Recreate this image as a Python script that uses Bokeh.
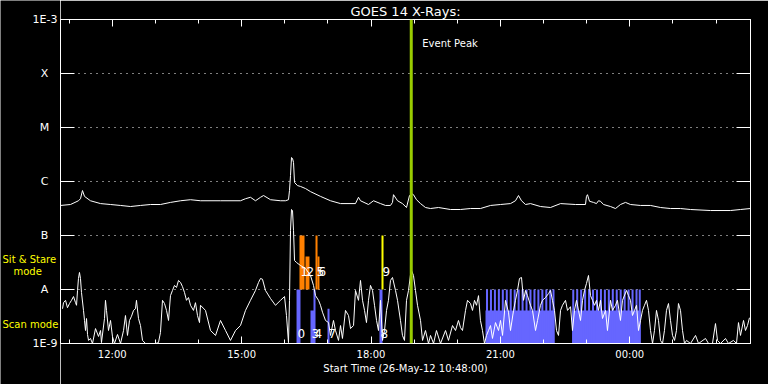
from bokeh.plotting import figure
from bokeh.layouts import row
from bokeh.models import (ColumnDataSource, FixedTicker, LinearAxis, LogAxis, Span, Label,
                          CustomJSTickFormatter, Range1d)
from bokeh.core.properties import value
from bokeh.embed import file_html
from bokeh.resources import INLINE

# ---------------- data (time = minutes after Start Time 26-May-12 10:48:00) ----------------
time_range = [0, 960]

# GOES 14 long channel (1-8 A), W/m^2
long_t = [0, 13.9, 25, 27.8, 30.6, 33.4, 41.7, 55.7, 69.6, 83.5,
          97.4, 111.3, 125.2, 139.1, 153, 167, 180.9, 194.8, 222.6, 250.4,
          257.4, 264.3, 271.3, 278.3, 282.5, 292.2, 306.1, 313, 317.2, 318.6,
          320, 321.4, 322.8, 324.2, 325.6, 329.7, 333.9, 340.9, 347.8, 361.7,
          375.7, 389.6, 410.4, 414.6, 417.4, 428.5, 435.5, 445.2, 452.2, 459.1,
          461.9, 463.3, 468.9, 475.8, 481.4, 485.6, 488.3, 491.1, 495.3, 500.9,
          507.8, 514.8, 525.9, 542.6, 556.5, 570.4, 584.3, 598.3, 612.2, 626.1,
          633, 637.2, 641.4, 647, 653.9, 667.8, 681.7, 695.7, 716.5, 730.4,
          731.8, 733.2, 736, 741.6, 745.7, 748.5, 751.3, 755.5, 765.2, 772.2,
          779.1, 786.1, 793, 807, 820.9, 834.8, 848.7, 862.6, 876.5, 904.3,
          932.2, 946.1, 960]
long_flux = [3.6e-7, 3.75e-7, 4.4e-7, 4.8e-7, 6.8e-7, 5.3e-7, 4.4e-7, 3.9e-7, 3.75e-7, 3.6e-7,
             3.44e-7, 3.6e-7, 3.75e-7, 3.75e-7, 4.1e-7, 4.4e-7, 4.6e-7, 4.4e-7, 4.4e-7, 4.4e-7,
             4.8e-7, 5.1e-7, 4.4e-7, 5.1e-7, 5.5e-7, 4.6e-7, 4.4e-7, 4.4e-7, 4.6e-7, 6.8e-7,
             1.29e-6, 2.78e-6, 2.67e-6, 2.25e-6, 9.6e-7, 8.4e-7, 8.1e-7, 7.4e-7, 6.5e-7, 5.3e-7,
             4.4e-7, 3.9e-7, 3.9e-7, 5.1e-7, 4.4e-7, 3.75e-7, 4.4e-7, 3.9e-7, 3.6e-7, 3.6e-7,
             4.1e-7, 5.7e-7, 4.4e-7, 3.9e-7, 3.3e-7, 5.5e-7, 6.0e-7, 5.7e-7, 4.6e-7, 3.9e-7,
             3.3e-7, 3.16e-7, 3.3e-7, 3.03e-7, 3.03e-7, 3.16e-7, 3.16e-7, 3.6e-7, 3.75e-7, 3.9e-7,
             4.4e-7, 5.5e-7, 4.4e-7, 3.75e-7, 3.9e-7, 3.44e-7, 3.3e-7, 3.9e-7, 3.75e-7, 3.75e-7,
             5.3e-7, 5.7e-7, 4.3e-7, 4.1e-7, 3.9e-7, 4.4e-7, 4.3e-7, 3.75e-7, 3.44e-7, 3.16e-7,
             3.75e-7, 4.1e-7, 3.75e-7, 3.6e-7, 3.6e-7, 3.3e-7, 3.16e-7, 3.16e-7, 3.03e-7, 2.9e-7,
             2.9e-7, 3.03e-7, 3.16e-7]

# GOES 14 short channel (0.5-4 A), W/m^2
short_t = [2.8, 4.2, 7, 9.7, 12.5, 15.3, 18.1, 20.9, 22.3, 23.7,
           25, 26.4, 27.8, 29.2, 32, 33.4, 34.8, 36.2, 37.6, 39,
           41.7, 44.5, 48.7, 52.9, 55.7, 57, 61.2, 62.6, 64, 66.8,
           69.6, 72.3, 75.1, 79.3, 83.5, 87.7, 90.4, 93.2, 96, 98.8,
           101.6, 104.3, 105.7, 108.5, 111.3, 114.1, 118.3, 132.2, 136.3, 139.1,
           141.9, 144.7, 147.5, 150.3, 153, 155.8, 158.6, 161.4, 164.2, 167,
           169.7, 172.5, 175.3, 178.1, 180.9, 185, 187.8, 190.6, 193.4, 194.8,
           201.7, 208.7, 215.7, 222.6, 229.6, 236.5, 243.5, 250.4, 257.4, 264.3,
           271.3, 275.5, 278.3, 281, 285.2, 292.2, 299.1, 306.1, 311.7, 314.4,
           317.2, 318.6, 320, 321.4, 322.8, 324.2, 325.6, 328.4, 333.9, 340.9,
           347.8, 352, 354.8, 359, 361.7, 364.5, 368.7, 372.9, 375.7, 379.8,
           382.6, 386.8, 389.6, 392.3, 396.5, 400.7, 403.5, 407.7, 410.4, 414.6,
           417.4, 420.2, 423, 425.7, 428.5, 431.3, 434.1, 436.9, 439.7, 442.4,
           445.2, 448, 450.8, 453.6, 456.3, 459.1, 461.9, 466.1, 468.9, 473,
           475.8, 478.6, 481.4, 484.2, 487, 488.3, 491.1, 493.9, 496.7, 500.9,
           503.7, 507.8, 512, 514.8, 519, 523.1, 528.7, 535.7, 539.8, 545.4,
           549.6, 553.7, 556.5, 559.3, 563.5, 566.3, 570.4, 573.2, 576, 578.8,
           581.6, 584.3, 587.1, 589.9, 592.7, 595.5, 598.3, 601, 605.2, 609.4,
           612.2, 615, 619.1, 623.3, 626.1, 630.3, 633, 635.8, 638.6, 641.4,
           644.2, 647, 649.7, 653.9, 656.7, 660.9, 663.7, 667.8, 670.6, 674.8,
           679, 681.7, 684.5, 687.3, 690.1, 692.9, 695.7, 698.4, 702.6, 705.4,
           709.6, 712.3, 715.1, 717.9, 720.7, 723.5, 726.3, 729, 731.8, 734.6,
           737.4, 740.2, 743, 745.7, 748.5, 751.3, 754.1, 758.3, 761, 765.2,
           768, 772.2, 774.9, 779.1, 781.9, 787.5, 790.3, 793, 795.8, 798.6,
           801.4, 804.2, 807, 809.7, 812.5, 815.3, 818.1, 820.9, 823.7, 826.4,
           829.2, 832, 834.8, 837.6, 840.3, 843.1, 845.9, 848.7, 851.5, 854.3,
           857, 859.8, 862.6, 865.4, 868.2, 871, 876.5, 883.5, 887.7, 897.4,
           901.6, 907.1, 911.3, 914.1, 918.3, 925.2, 929.4, 936.3, 940.5, 943.3,
           946.1, 950.3, 953, 955.8, 958.6]
short_flux = [4.4e-9, 5.7e-9, 6.3e-9, 4.6e-9, 5.5e-9, 6.3e-9, 7.4e-9, 5.7e-9, 5.1e-9, 9.6e-9,
              1.6e-8, 2.07e-8, 1.6e-8, 8.8e-9, 4.1e-9, 2.67e-9, 1.74e-9, 2.9e-9, 1.47e-9, 1.14e-9,
              1.24e-9, 1.0e-9, 1.89e-9, 1.35e-9, 1.74e-9, 1.04e-9, 2.9e-9, 6.3e-9, 4.1e-9, 1.74e-9,
              2.67e-9, 1.35e-9, 1.0e-9, 1.47e-9, 1.0e-9, 1.74e-9, 3.3e-9, 1.41e-9, 2.67e-9, 3.2e-9,
              4.1e-9, 4.4e-9, 6.3e-9, 2.9e-9, 2.15e-9, 1.14e-9, 1.0e-9, 1.0e-9, 1.04e-9, 1.6e-9,
              6.3e-9, 5.5e-9, 4.1e-9, 2.67e-9, 7.7e-9, 9.6e-9, 1.19e-8, 1.09e-8, 1.47e-8, 1.35e-8,
              1.13e-8, 8.8e-9, 6.3e-9, 7.1e-9, 5.1e-9, 4.1e-9, 5.7e-9, 3.3e-9, 2.44e-9, 5.1e-9,
              4.1e-9, 1.74e-9, 1.41e-9, 2.67e-9, 1.74e-9, 1.14e-9, 1.74e-9, 2.15e-9, 4.1e-9, 6.3e-9,
              9.6e-9, 1.35e-8, 1.6e-8, 1.55e-8, 9.6e-9, 6.8e-9, 5.1e-9, 6.3e-9, 7.4e-9, 3.3e-9,
              1.04e-9, 6.3e-9, 1.24e-7, 3.03e-7, 2.9e-7, 1.24e-7, 3.44e-8, 3.16e-8, 2.78e-8, 2.45e-8,
              1.82e-8, 1.19e-8, 7.7e-9, 6.3e-9, 5.1e-9, 3.8e-9, 2.67e-9, 2.44e-9, 1.41e-9, 2.67e-9,
              1.74e-9, 1.14e-9, 2.15e-9, 1.24e-9, 4.1e-9, 3.3e-9, 1.89e-9, 2.15e-9, 9.6e-9, 6.3e-9,
              1.47e-8, 6.3e-9, 4.1e-9, 2.44e-9, 6.3e-9, 1.19e-8, 9.6e-9, 5.1e-9, 2.67e-9, 1.74e-9,
              6.3e-9, 1.14e-9, 1.74e-9, 4.1e-9, 6.3e-9, 1.47e-8, 1.67e-8, 9.6e-9, 6.3e-9, 2.67e-9,
              1.41e-9, 1.14e-9, 6.3e-9, 9.6e-9, 1.9e-8, 2.25e-8, 1.82e-8, 9.6e-9, 5.1e-9, 2.67e-9,
              1.14e-9, 1.74e-9, 1.0e-9, 1.41e-9, 1.0e-9, 1.74e-9, 1.0e-9, 1.74e-9, 1.14e-9, 2.15e-9,
              1.74e-9, 2.67e-9, 1.97e-9, 1.74e-9, 4.1e-9, 6.3e-9, 5.5e-9, 4.1e-9, 6.3e-9, 5.1e-9,
              7.7e-9, 2.67e-9, 1.74e-9, 1.0e-9, 1.41e-9, 1.74e-9, 2.15e-9, 1.24e-9, 2.44e-9, 1.74e-9,
              2.67e-9, 1.41e-9, 6.3e-9, 3.8e-9, 1.74e-9, 4.1e-9, 6.3e-9, 9.6e-9, 1.6e-8, 1.67e-8,
              6.3e-9, 9.6e-9, 7.7e-9, 5.1e-9, 4.1e-9, 1.74e-9, 2.67e-9, 5.1e-9, 6.3e-9, 7.1e-9,
              8.4e-9, 9.6e-9, 6.3e-9, 4.1e-9, 1.74e-9, 1.41e-9, 4.1e-9, 5.1e-9, 6.3e-9, 4.1e-9,
              4.8e-9, 1.74e-9, 4.1e-9, 6.3e-9, 4.1e-9, 2.67e-9, 6.3e-9, 9.6e-9, 1.29e-8, 1.82e-8,
              7.7e-9, 6.3e-9, 5.1e-9, 6.3e-9, 4.1e-9, 6.3e-9, 2.9e-9, 4.1e-9, 1.74e-9, 6.3e-9,
              4.1e-9, 5.1e-9, 6.3e-9, 2.67e-9, 6.3e-9, 9.6e-9, 7.7e-9, 6.3e-9, 3.3e-9, 4.1e-9,
              5.1e-9, 1.74e-9, 2.67e-9, 4.1e-9, 5.1e-9, 6.3e-9, 4.1e-9, 1.74e-9, 1.0e-9, 1.74e-9,
              4.1e-9, 2.67e-9, 1.14e-9, 1.0e-9, 1.74e-9, 4.1e-9, 5.5e-9, 2.67e-9, 1.41e-9, 1.14e-9,
              1.74e-9, 5.5e-9, 4.1e-9, 1.74e-9, 1.0e-9, 1.14e-9, 1.0e-9, 1.41e-9, 1.0e-9, 1.24e-9,
              1.0e-9, 1.0e-9, 2.34e-9, 1.14e-9, 1.0e-9, 1.24e-9, 1.0e-9, 1.14e-9, 1.0e-9, 2.44e-9,
              1.41e-9, 2.67e-9, 1.74e-9, 2.15e-9, 3.0e-9]

# Observation events (numbered)
ev_id = ["0", "1", "2", "3", "4", "5", "6", "7", "8", "9"]
ev_mode = ["scan", "sit", "sit", "scan", "scan", "sit", "sit", "scan", "scan", "sit_sel"]
ev_start = [328.4, 332.5, 340.9, 347.8, 352.0, 354.8, 357.6, 371.5, 443.8, 446.6]
ev_end = [333.9, 339.5, 346.4, 353.4, 354.8, 357.6, 360.3, 374.3, 448.0, 449.4]
ev_top = [1e-8, 1e-7, 4.1e-8, 4.1e-9, 1e-8, 1e-7, 4.1e-8, 4.4e-9, 1e-8, 1e-7]

# Scan-mode blocks and raster starts (evening sequences)
block_start = [591.3, 711.9]
block_end = [687.3, 807.0]
block_top = [4.1e-9, 4.1e-9]
raster_start = [592, 597.5, 603, 608.5, 614, 619.5, 625, 630.5, 636, 641.5,
                647, 652.5, 658, 663.5, 669, 674.5, 680, 684.5,
                712, 717.5, 723, 728.5, 734, 739.5, 745, 750.5, 756, 761.5,
                767, 772.5, 778, 783.5, 789, 794.5, 800, 804.5]
raster_duration = 2.8
raster_top = 1e-8

event_peak = 488   # 18:56

class_ticks = [1e-9, 1e-8, 1e-7, 1e-6, 1e-5, 1e-4, 1e-3]
class_labels = ["1E-9", "A", "B", "C", "M", "X", "1E-3"]
hour_ticks = [72, 252, 432, 612, 792]
hour_labels = ["12:00", "15:00", "18:00", "21:00", "00:00"]
minor_hours = [12, 72, 132, 192, 252, 312, 372, 432, 492, 552, 612, 672, 732, 792, 852, 912]

mode_texts = ["Sit & Stare", "mode", "Scan mode"]

# ---------------- styles / layout ----------------
FONT = "DejaVu Sans"
W, H = 768, 384
LEFT, RIGHT, TOP, BOTTOM = 60, 18, 19, 41
FRAME_H = H - TOP - BOTTOM
mode_color = {"scan": "#6666ff", "sit": "#ff8000", "sit_sel": "#ffff00"}
mode_bottom = {"scan": 1e-9, "sit": 1e-8, "sit_sel": 1e-8}
mode_label_y = {"scan": 1.53e-9, "sit": 2.15e-8, "sit_sel": 2.15e-8}

y_range = Range1d(class_ticks[0], class_ticks[-1])

p = figure(width=W - LEFT, height=H, x_range=Range1d(*time_range), y_range=y_range,
           y_axis_type="log", output_backend="svg", toolbar_location=None,
           background_fill_color="black", border_fill_color="black",
           min_border_left=0, min_border_right=RIGHT, min_border_top=TOP, min_border_bottom=BOTTOM,
           outline_line_color="white", title="GOES 14 X-Rays:")
p.title.text_color = "white"
p.title.text_font = FONT
p.title.text_font_size = "13px"
p.title.text_font_style = "normal"
p.title.align = "center"
p.title.standoff = 2
p.title.offset = -4

# axes
xa = p.xaxis[0]
xa.ticker = FixedTicker(ticks=hour_ticks, minor_ticks=minor_hours)
xa.major_label_overrides = dict(zip(hour_ticks, hour_labels))
xa.axis_label = "Start Time (26-May-12 10:48:00)"
ya = p.yaxis[0]
ya.ticker = FixedTicker(ticks=class_ticks)
ya.formatter = CustomJSTickFormatter(code="return '';")

top_axis = LinearAxis(ticker=FixedTicker(ticks=hour_ticks, minor_ticks=minor_hours),
                      formatter=CustomJSTickFormatter(code="return '';"))
right_axis = LogAxis(ticker=FixedTicker(ticks=class_ticks),
                     formatter=CustomJSTickFormatter(code="return '';"))
p.add_layout(top_axis, "above")
p.add_layout(right_axis, "right")

for ax in (xa, top_axis):
    ax.major_tick_in = 7
    ax.major_tick_out = 0
    ax.minor_tick_in = 4
    ax.minor_tick_out = 0
    ax.minor_tick_line_color = "white"
for ax in (ya, right_axis):
    ax.major_tick_in = 14
    ax.major_tick_out = 0
    ax.minor_tick_line_color = None
for ax in (xa, ya, top_axis, right_axis):
    ax.axis_line_color = "white"
    ax.major_tick_line_color = "white"
    ax.major_label_text_color = "white"
    ax.major_label_text_font = FONT
    ax.major_label_text_font_size = "10px"
for ax in (ya, top_axis, right_axis):
    ax.major_label_text_font_size = "0px"
    ax.major_label_standoff = 0
xa.major_label_standoff = 5
xa.axis_label_text_color = "white"
xa.axis_label_text_font = FONT
xa.axis_label_text_font_size = "10px"
xa.axis_label_text_font_style = "normal"
xa.axis_label_standoff = 0

p.xgrid.visible = False
p.ygrid[0].ticker = FixedTicker(ticks=class_ticks)
p.ygrid.grid_line_color = "white"
p.ygrid.grid_line_dash = "1 5"
p.ygrid.grid_line_width = 1

# scan blocks and rasters
p.quad(left=block_start, right=block_end, top=block_top, bottom=[mode_bottom["scan"]] * len(block_start),
       fill_color=mode_color["scan"], line_color=None)
p.quad(left=raster_start, right=[s + raster_duration for s in raster_start],
       top=[raster_top] * len(raster_start), bottom=[mode_bottom["scan"]] * len(raster_start),
       fill_color=mode_color["scan"], line_color=None)

ev_src = ColumnDataSource(dict(
    id=ev_id, left=ev_start, right=ev_end, top=ev_top,
    bottom=[mode_bottom[m] for m in ev_mode],
    color=[mode_color[m] for m in ev_mode],
    ly=[mode_label_y[m] for m in ev_mode]))
p.quad(left="left", right="right", top="top", bottom="bottom", fill_color="color",
       line_color=None, source=ev_src)

# light curves
p.line(long_t, long_flux, line_color="white", line_width=1)
p.line(short_t, short_flux, line_color="white", line_width=1)

p.text(x="left", y="ly", text="id", source=ev_src, text_color="white",
       text_font=value(FONT), text_font_size="12px", text_baseline="middle",
       text_align="left", x_offset=1)

# event peak
p.add_layout(Span(location=event_peak, dimension="height", line_color="#99cc00", line_width=3))
p.add_layout(Label(x=event_peak, y=3.6e-4, x_offset=11, text="Event Peak", text_color="white",
                   text_font=FONT, text_font_size="10px", text_baseline="middle"))

# ---------------- left strip: y tick labels (GOES classes) and mode texts ----------------
dec_px = FRAME_H / 6.0
lp = figure(width=LEFT, height=H, x_range=Range1d(0, LEFT),
            y_range=Range1d(class_ticks[0] / 10 ** (BOTTOM / dec_px), class_ticks[-1] * 10 ** (TOP / dec_px)),
            y_axis_type="log", output_backend="svg", toolbar_location=None,
            x_axis_location=None, y_axis_location=None,
            background_fill_color="black", border_fill_color="black",
            min_border_left=0, min_border_right=0, min_border_top=0, min_border_bottom=0,
            outline_line_color=None)
lp.frame_align = False
lp.grid.visible = False

end_src = ColumnDataSource(dict(y=[class_ticks[0], class_ticks[-1]], t=[class_labels[0], class_labels[-1]]))
lp.text(x=57, y="y", text="t", source=end_src, text_color="white", text_font=value(FONT),
        text_font_size="11px", text_align="right", text_baseline="middle")
let_src = ColumnDataSource(dict(y=class_ticks[1:-1], t=class_labels[1:-1]))
lp.text(x=44, y="y", text="t", source=let_src, text_color="white", text_font=value(FONT),
        text_font_size="11px", text_align="center", text_baseline="middle")
mode_src = ColumnDataSource(dict(x=[2, 13, 2], y=[3.6e-8, 2.15e-8, 2.25e-9], t=mode_texts))
lp.text(x="x", y="y", text="t", source=mode_src, text_color="#ffff00", text_font=value(FONT),
        text_font_size="10px", text_align="left", text_baseline="middle")

layout = row(lp, p)
open("out.html", "w").write(file_html(layout, INLINE))
